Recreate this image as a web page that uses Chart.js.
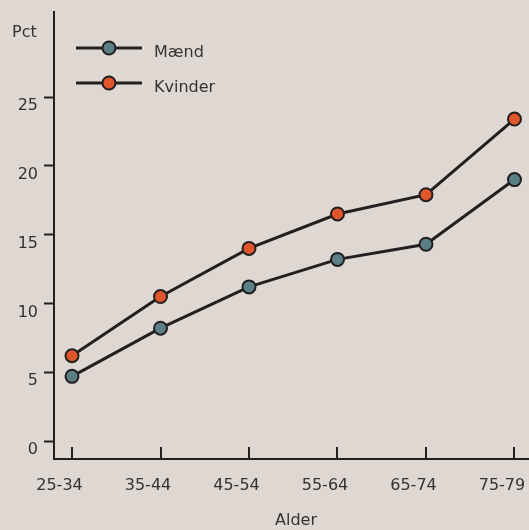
<!DOCTYPE html>
<html>
<head>
<meta charset="utf-8">
<script src="https://cdn.jsdelivr.net/npm/chart.js@4/dist/chart.umd.min.js"></script>
<style>
  html, body { margin: 0; padding: 0; background: #dfd8d2; overflow: hidden; }
  canvas { display: block; }
</style>
</head>
<body>
<canvas id="c" width="529" height="530"></canvas>
<script>
// Age groups and share (pct) per group
const categories = ['25-34', '35-44', '45-54', '55-64', '65-74', '75-79'];
const maend = [4.7, 8.2, 11.2, 13.2, 14.3, 19.0];
const kvinder = [6.2, 10.5, 14.0, 16.5, 17.9, 23.4];
const yTicks = [0, 5, 10, 15, 20, 25];
const seriesNames = ['Mænd', 'Kvinder'];

const INK = '#231f20';
const TEXT = '#353233';
const FONT = 'DejaVu Sans';
const colors = ['#5b7f87', '#e1552b'];

function toPoints(arr) { return arr.map((v, i) => ({ x: i, y: v })); }

// Upward tick marks on the x axis, plus axis titles and the legend
const decor = {
  id: 'decor',
  afterDraw(chart) {
    const ctx = chart.ctx;
    const xs = chart.scales.x;
    const base = chart.chartArea.bottom;
    ctx.save();
    ctx.strokeStyle = INK;
    ctx.lineWidth = 2;
    categories.forEach((c, i) => {
      const px = Math.round(xs.getPixelForValue(i));
      ctx.beginPath();
      ctx.moveTo(px, base);
      ctx.lineTo(px, base - 12);
      ctx.stroke();
    });

    ctx.fillStyle = TEXT;
    ctx.font = '16px "' + FONT + '"';
    ctx.textBaseline = 'middle';
    ctx.textAlign = 'left';
    ctx.fillText('Pct', 12, 33);
    ctx.textAlign = 'center';
    ctx.fillText('Alder', 296, 521);

    // legend
    const rows = [48, 83];
    chart.data.datasets.forEach((ds, k) => {
      const y = rows[k];
      ctx.strokeStyle = INK;
      ctx.lineWidth = 3;
      ctx.beginPath();
      ctx.moveTo(76, y);
      ctx.lineTo(142, y);
      ctx.stroke();
      ctx.beginPath();
      ctx.arc(109, y, 6.5, 0, Math.PI * 2);
      ctx.fillStyle = ds.pointBackgroundColor;
      ctx.fill();
      ctx.lineWidth = 2;
      ctx.stroke();
      ctx.fillStyle = TEXT;
      ctx.textAlign = 'left';
      ctx.fillText(ds.label, 154, y + 5);
    });
    ctx.restore();
  }
};

new Chart(document.getElementById('c'), {
  type: 'line',
  data: {
    datasets: [maend, kvinder].map((arr, k) => ({
      label: seriesNames[k],
      data: toPoints(arr),
      borderColor: INK,
      borderWidth: 3,
      pointBackgroundColor: colors[k],
      pointBorderColor: INK,
      pointBorderWidth: 2,
      pointRadius: 6.5,
      pointHoverRadius: 6.5,
      tension: 0,
      clip: false
    }))
  },
  options: {
    responsive: false,
    animation: false,
    events: [],
    layout: { autoPadding: false, padding: { top: 12, right: 0, left: 0, bottom: 0 } },
    plugins: { legend: { display: false }, tooltip: { enabled: false } },
    scales: {
      x: {
        type: 'linear',
        min: -0.2035,
        max: 5.164,
        afterBuildTicks: s => { s.ticks = categories.map((c, i) => ({ value: i })); },
        afterFit: s => { s.height = 71; s.paddingLeft = 0; s.paddingRight = 0; },
        ticks: {
          callback: v => categories[v],
          autoSkip: false,
          maxRotation: 0,
          padding: 17,
          labelOffset: -12.5,
          color: TEXT,
          font: { family: FONT, size: 16 }
        },
        grid: { drawOnChartArea: false, drawTicks: false },
        border: { display: true, color: INK, width: 2 }
      },
      y: {
        type: 'linear',
        min: -1.308,
        max: 31.18,
        afterBuildTicks: s => { s.ticks = yTicks.map(v => ({ value: v })); },
        afterFit: s => { s.width = 54; s.paddingTop = 0; s.paddingBottom = 0; },
        ticks: {
          padding: 6,
          labelOffset: 9,
          color: TEXT,
          font: { family: FONT, size: 16 }
        },
        grid: { drawOnChartArea: false, drawTicks: true, tickLength: 10, tickColor: INK, tickWidth: 2 },
        border: { display: true, color: INK, width: 2 }
      }
    }
  },
  plugins: [decor]
});
</script>
</body>
</html>
